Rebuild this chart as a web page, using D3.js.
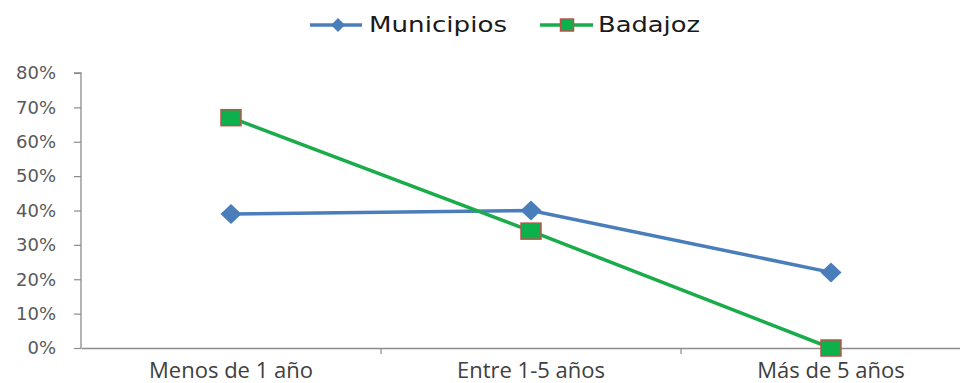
<!DOCTYPE html>
<html><head><meta charset="utf-8">
<script src="https://cdn.jsdelivr.net/npm/d3@7"></script>
<style>body{margin:0;background:#fff}svg{display:block}</style>
</head><body>
<svg id="chart" width="960" height="383"></svg>
<script>
// Antigüedad: share per category for each series
const categories = ["Menos de 1 año", "Entre 1-5 años", "Más de 5 años"];
const municipios = [0.39, 0.40, 0.22];
const badajoz = [0.67, 0.34, 0.00];
const yTicks = [0, 0.1, 0.2, 0.3, 0.4, 0.5, 0.6, 0.7, 0.8];
const seriesNames = ["Municipios", "Badajoz"];

const svg = d3.select("#chart");
const plotLeft = 81, plotTop = 73, plotBottom = 348, plotRight = 981;

const x = d3.scaleBand().domain(categories).range([plotLeft, plotRight]);
const y = d3.scaleLinear().domain([0, 0.8]).range([plotBottom, plotTop]);

// Y axis
const yAxis = d3.axisLeft(y).tickValues(yTicks).tickFormat(d3.format(".0%")).tickSize(7).tickPadding(18);
const gy = svg.append("g").attr("transform", `translate(${plotLeft},0)`).call(yAxis);
gy.select(".domain").attr("stroke", "#8c8c8c").attr("stroke-width", 1.3).attr("d", `M-7,${plotTop}H0V${plotBottom}`);
gy.selectAll(".tick line").attr("stroke", "#8c8c8c").attr("stroke-width", 1.2);
gy.selectAll(".tick text").attr("fill", "#595959").style("font-family", "DejaVu Sans").style("font-size", "18px");

// X axis
const xAxis = d3.axisBottom(x).tickSize(0);
const gx = svg.append("g").attr("transform", `translate(0,${plotBottom})`).call(xAxis);
gx.select(".domain").attr("stroke", "#8c8c8c").attr("stroke-width", 1.3);
gx.selectAll(".tick text").attr("fill", "#404040").attr("y", 30).attr("dy", 0)
  .style("font-family", "Open Sans").style("font-size", "22px");
// category separators
categories.slice(1).forEach(c => {
  gx.append("line").attr("x1", x(c)).attr("x2", x(c)).attr("y1", 0).attr("y2", 6).attr("stroke", "#8c8c8c").attr("stroke-width", 1.2);
});

const cx = c => x(c) + x.bandwidth() / 2;
const line = d3.line().x((d, i) => cx(categories[i])).y(d => y(d));

const blue = "#4a7ebb", green = "#1aab4b", sqEdge = "#c0504d";

svg.append("path").datum(municipios).attr("d", line).attr("fill", "none").attr("stroke", blue).attr("stroke-width", 3.5);
svg.append("path").datum(badajoz).attr("d", line).attr("fill", "none").attr("stroke", green).attr("stroke-width", 3.5);

const diamond = (sel, px, py, rx, ry) => sel.append("path")
  .attr("d", `M${px},${py - ry}L${px + rx},${py}L${px},${py + ry}L${px - rx},${py}Z`)
  .attr("fill", blue);
const square = (sel, px, py, w, h) => sel.append("rect")
  .attr("x", px - w / 2).attr("y", py - h / 2).attr("width", w).attr("height", h)
  .attr("fill", "#0db14b").attr("stroke", sqEdge).attr("stroke-width", 1.5);

municipios.forEach((v, i) => diamond(svg, cx(categories[i]), y(v), 10.5, 10));
badajoz.forEach((v, i) => square(svg, cx(categories[i]), y(v), 20, 16));

// Legend
const lg = svg.append("g");
lg.append("line").attr("x1", 310).attr("x2", 362).attr("y1", 25).attr("y2", 25).attr("stroke", blue).attr("stroke-width", 3.5);
diamond(lg, 338, 25, 7, 7);
lg.append("text").attr("x", 369).attr("y", 32).text(seriesNames[0])
  .attr("textLength", 138).attr("lengthAdjust", "spacingAndGlyphs")
  .style("font-family", "DejaVu Sans").style("font-size", "21px").attr("fill", "#1a1a1a");
lg.append("line").attr("x1", 540).attr("x2", 593).attr("y1", 25).attr("y2", 25).attr("stroke", green).attr("stroke-width", 3.5);
square(lg, 567, 25, 13, 12);
lg.append("text").attr("x", 598).attr("y", 32).text(seriesNames[1])
  .attr("textLength", 102).attr("lengthAdjust", "spacingAndGlyphs")
  .style("font-family", "DejaVu Sans").style("font-size", "21px").attr("fill", "#1a1a1a");
</script>
</body></html>
